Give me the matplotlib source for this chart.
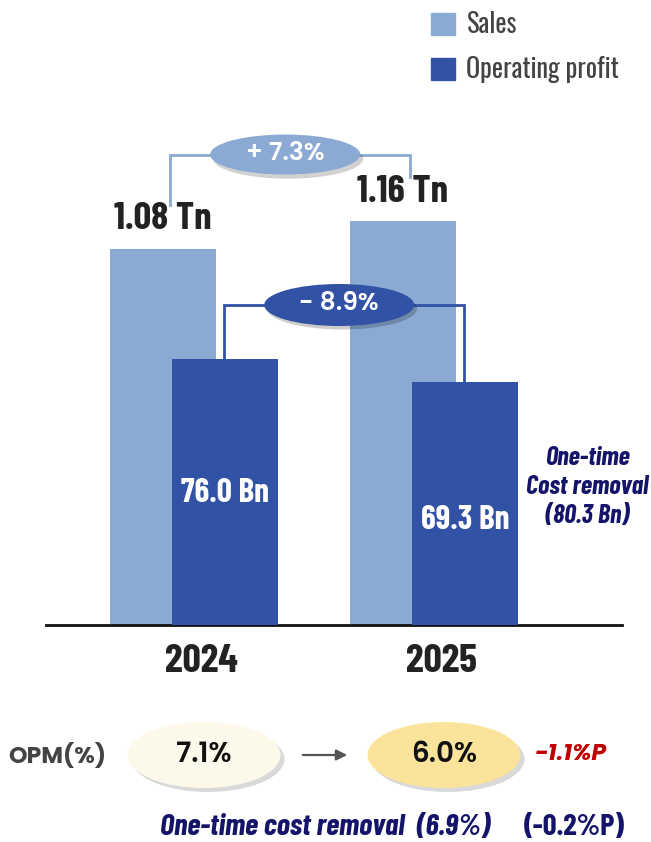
import matplotlib
matplotlib.use("Agg")
import matplotlib.pyplot as plt
from matplotlib.patches import Ellipse, FancyArrowPatch, Patch

# ---- data ----
years = ["2024", "2025"]
sales_tn = [1.08, 1.16]
op_bn = [76.0, 69.3]
sales_labels = ["1.08 Tn", "1.16 Tn"]
op_labels = ["76.0 Bn", "69.3 Bn"]
sales_change = "+ 7.3%"
op_change = "- 8.9%"
opm_labels = ["7.1%", "6.0%"]
opm_delta = "-1.1%P"
adj_note = "One-time\nCost removal\n(80.3 Bn)"
adj_opm = "One-time cost removal  (6.9%)"
adj_delta = "(-0.2%P)"

# ---- style ----
C_SALES = "#8AAAD3"
C_OP = "#3252A5"
C_NAVY = "#14146B"
C_TEXT = "#222222"
HEAVY = ["Barlow Condensed", "Roboto Condensed", "DejaVu Sans"]
LIGHT = ["Oswald", "DejaVu Sans"]
ITAL = ["Barlow Condensed", "Roboto Condensed", "DejaVu Sans"]
ROUND_B = ["Poppins", "DejaVu Sans"]

W, H = 651, 842
fig = plt.figure(figsize=(W / 100, H / 100), dpi=100)

def fx(px):
    return px / W

def fy(py):
    return 1 - py / H

# main axes: baseline at y=625 px, spans x 46..622 px
ax = fig.add_axes([fx(46), fy(625), fx(622) - fx(46), (625 - 100) / H])
px_per_unit = 240.0
x0 = 194.0
ax.set_xlim((46 - x0) / px_per_unit, (622 - x0) / px_per_unit)
ax.set_ylim(0, 525 / 348.5)

ax2 = ax.twinx()
ax2.set_ylim(0, 525 / 3.5)

off = 0.13
bw = 0.44
xs = list(range(len(years)))
ax.bar([x - off for x in xs], sales_tn, width=bw, color=C_SALES, zorder=2)
ax2.bar([x + off for x in xs], op_bn, width=bw, color=C_OP, zorder=3)

for a in (ax, ax2):
    for s in ("top", "right", "left"):
        a.spines[s].set_visible(False)
    a.set_yticks([])
ax2.spines["bottom"].set_visible(False)
ax.spines["bottom"].set_linewidth(2.0)
ax.spines["bottom"].set_color("#111111")
ax.set_xticks([x + 0.03 for x in xs])
ax.set_xticklabels(years, fontsize=29, fontweight="bold", color=C_TEXT, family=HEAVY)
ax.tick_params(axis="x", length=0, pad=14)

# value labels
for x, v, lab in zip(xs, sales_tn, sales_labels):
    ax.text(x - off, v + 0.035, lab, ha="center", va="bottom", fontsize=28,
            fontweight="bold", color=C_TEXT, family=HEAVY, zorder=5)
op_label_y = [493, 520]
for x, lab, py in zip(xs, op_labels, op_label_y):
    ax2.text(x + off, (625 - py) / 3.5, lab, ha="center", va="center", fontsize=24,
             fontweight="bold", color="white", family=HEAVY, zorder=5)

ax2.text(1.64, (625 - 487) / 3.5, adj_note, ha="center", va="center", fontsize=19,
         fontweight="bold", fontstyle="italic", color=C_NAVY, family=ITAL,
         linespacing=1.25, zorder=5)

# sales bracket with change badge
sb_top = max(sales_tn) + 0.19
sl = [x - off + 0.03 for x in xs]
ax.plot([sl[0], sl[0], sl[1], sl[1]],
        [sales_tn[0] + 0.125, sb_top, sb_top, sales_tn[1] + 0.125],
        color=C_SALES, lw=2, zorder=4, solid_joinstyle="miter")
smid = (sl[0] + sl[1]) / 2 - 0.02
ax.add_patch(Ellipse((smid + 0.012, sb_top - 0.012), 150 / px_per_unit, 40 / 348.5,
                     color="#000000", alpha=0.18, zorder=5, lw=0))
ax.add_patch(Ellipse((smid, sb_top), 150 / px_per_unit, 40 / 348.5,
                     color=C_SALES, zorder=6, lw=0))
ax.text(smid, sb_top, sales_change, ha="center", va="center", fontsize=18,
        color="white", family=ROUND_B, fontweight="semibold", zorder=7)

# operating profit bracket with change badge
ob_top = (625 - 305) / 3.5
ol = [x + off - 0.005 for x in xs]
ax2.plot([ol[0], ol[0], ol[1], ol[1]],
         [op_bn[0], ob_top, ob_top, op_bn[1]],
         color=C_OP, lw=2, zorder=4, solid_joinstyle="miter")
omid = (ol[0] + ol[1]) / 2 - 0.02
ax2.add_patch(Ellipse((omid + 0.012, ob_top - 1.0), 150 / px_per_unit, 42 / 3.5,
                      color="#000000", alpha=0.2, zorder=5, lw=0))
ax2.add_patch(Ellipse((omid, ob_top), 150 / px_per_unit, 42 / 3.5,
                      color=C_OP, zorder=6, lw=0))
ax2.text(omid, ob_top, op_change, ha="center", va="center", fontsize=18,
         color="white", family=ROUND_B, fontweight="semibold", zorder=7)

# legend
handles = [Patch(color=C_SALES, label="Sales"), Patch(color=C_OP, label="Operating profit")]
fig.legend(handles=handles, loc="upper left", bbox_to_anchor=(fx(407), fy(-13)),
           frameon=False, handlelength=0.9, handleheight=0.9,
           handletextpad=0.45, labelspacing=0.7, labelcolor="#444444",
           prop={"family": LIGHT, "size": 19})

# OPM row
ov = fig.add_axes([0, 0, 1, 1], zorder=10)
ov.set_xlim(0, W)
ov.set_ylim(H, 0)
ov.axis("off")
ov.patch.set_alpha(0)

ov.text(57, 756, "OPM(%)", ha="center", va="center", fontsize=17,
        color="#444444", family=ROUND_B, fontweight="bold")
opm_cx = [204, 444]
opm_colors = ["#FDF9EA", "#FBE39C"]
for cx, col, lab in zip(opm_cx, opm_colors, opm_labels):
    ov.add_patch(Ellipse((cx + 4, 759), 153, 66, color="#000000", alpha=0.15, lw=0))
    ov.add_patch(Ellipse((cx, 755), 153, 66, color=col, lw=0))
    ov.text(cx, 755, lab, ha="center", va="center", fontsize=20, color="#111111",
            family=ROUND_B, fontweight="semibold")
ov.add_patch(FancyArrowPatch((300, 755), (350, 755), arrowstyle="-|>",
                             mutation_scale=16, color="#555555", lw=1.6))
ov.text(571, 755, opm_delta, ha="center", va="center", fontsize=17,
        fontweight="bold", fontstyle="italic", color="#C00000", family=ROUND_B)
ov.text(160, 828, adj_opm, ha="left", va="center", fontsize=22,
        fontweight="bold", fontstyle="italic", color=C_NAVY, family=ITAL)
ov.text(625, 828, adj_delta, ha="right", va="center", fontsize=22,
        fontweight="bold", color=C_NAVY, family=ITAL)

fig.savefig("out.png", dpi=100)
